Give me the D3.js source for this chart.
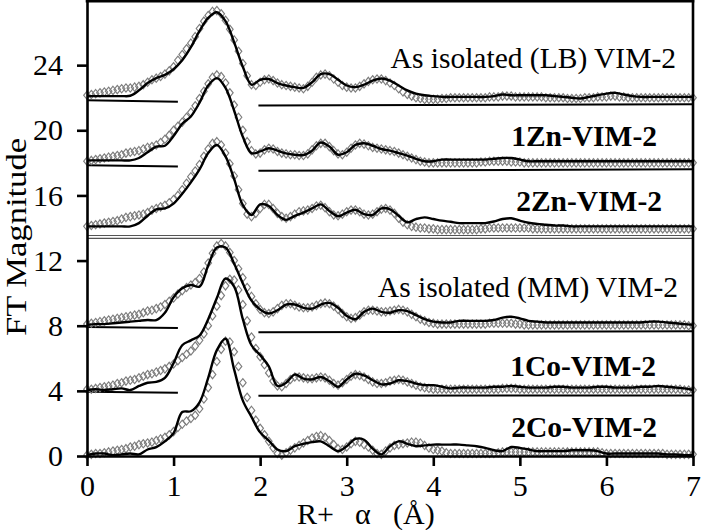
<!DOCTYPE html>
<html><head><meta charset="utf-8">
<script src="https://cdn.jsdelivr.net/npm/d3@7"></script>
<style>body{margin:0;background:#fff}svg{display:block}text{font-family:"Liberation Serif","Times New Roman",serif}</style>
</head><body><svg id="c" width="702" height="530"></svg>
<script>
// ---- data (R + alpha in Å, FT magnitude with offsets) ----
const xTicks = [0,1,2,3,4,5,6,7];
const yTicks = [0,4,8,12,16,20,24];
const seriesNames = ["As isolated (LB) VIM-2","1Zn-VIM-2","2Zn-VIM-2","As isolated (MM) VIM-2","1Co-VIM-2","2Co-VIM-2"];
const seriesBold = [false,true,true,false,true,true];
// experimental data sampled every 0.05 Å from 0 to 7
const dataLB = [22.15,22.2,22.25,22.3,22.35,22.4,22.45,22.5,22.55,22.6,
22.6,22.65,22.7,22.8,22.95,23.1,23.2,23.3,23.45,23.65,
23.9,24.3,24.65,25.0,25.35,25.75,26.25,26.7,27.05,27.3,
27.35,27.15,26.75,26.2,25.55,24.85,24.1,23.35,22.8,22.75,
22.95,23.1,23.15,23.05,22.9,22.8,22.75,22.7,22.65,22.6,
22.55,22.7,22.95,23.25,23.4,23.45,23.35,23.15,22.95,22.75,
22.65,22.6,22.6,22.7,22.85,23.0,23.1,23.15,23.15,23.05,
22.9,22.75,22.55,22.35,22.2,22.1,22.0,21.95,21.9,21.9,
21.9,21.9,21.95,21.95,22.0,22.0,22.0,22.0,22.0,22.0,
22.0,22.0,22.0,22.05,22.05,22.05,22.1,22.1,22.1,22.05,
22.05,22.05,22.05,22.05,22.05,22.05,22.0,22.0,22.0,22.0,
22.0,21.95,21.95,21.95,21.95,22.0,22.0,22.0,22.05,22.05,
22.05,22.1,22.1,22.05,22.05,22.0,22.0,22.0,22.0,22.0,
22.0,22.0,22.0,22.0,22.0,22.0,22.0,22.0,22.0,22.0,22.0];
const data1Zn = [18.1,18.15,18.2,18.25,18.3,18.35,18.4,18.45,18.5,18.6,
18.65,18.7,18.75,18.85,18.95,19.0,19.1,19.25,19.45,19.7,
20.0,20.25,20.5,20.8,21.1,21.5,21.95,22.4,22.85,23.25,
23.4,23.3,22.9,22.3,21.55,20.8,20.0,19.3,18.75,18.55,
18.6,18.8,18.9,18.85,18.7,18.6,18.55,18.5,18.5,18.45,
18.45,18.55,18.8,19.05,19.2,19.2,19.0,18.75,18.55,18.5,
18.65,18.9,19.1,19.2,19.15,19.05,18.95,18.9,18.85,18.8,
18.75,18.7,18.6,18.5,18.4,18.3,18.2,18.1,18.05,18.0,
18.0,18.0,18.0,18.0,18.0,18.0,18.0,18.0,18.0,18.0,
18.0,18.05,18.05,18.1,18.1,18.1,18.1,18.1,18.05,18.05,
18.05,18.0,18.0,18.0,18.0,18.0,18.0,18.0,18.0,18.0,
18.0,18.0,18.0,18.0,18.0,18.0,18.0,18.0,18.0,18.0,
18.0,18.0,18.0,18.0,18.0,18.0,18.0,18.0,18.0,18.0,
18.0,18.0,18.0,18.0,18.0,18.0,18.0,18.0,18.0,18.0,18.0];
const data2Zn = [14.1,14.15,14.2,14.25,14.3,14.35,14.4,14.45,14.55,14.65,
14.7,14.75,14.8,14.85,14.95,15.1,15.2,15.3,15.4,15.55,
15.75,16.0,16.35,16.75,17.15,17.5,17.9,18.4,18.85,19.2,
19.3,19.1,18.6,17.95,17.2,16.35,15.5,14.85,14.7,14.9,
15.2,15.45,15.45,15.2,14.9,14.7,14.6,14.7,14.85,15.0,
15.05,15.1,15.2,15.35,15.4,15.25,15.0,14.8,14.75,14.85,
15.0,15.1,15.1,15.0,14.85,14.8,14.85,15.0,15.15,15.2,
15.1,14.9,14.6,14.35,14.2,14.1,14.05,14.0,14.0,13.95,
13.95,13.9,13.9,13.9,13.9,13.9,13.9,13.9,13.9,13.9,
13.9,13.95,13.95,14.0,14.0,14.0,14.0,14.0,14.0,14.0,
14.0,14.0,14.0,13.95,13.95,13.95,13.95,13.95,13.95,13.95,
13.95,13.95,13.95,13.95,13.95,13.95,13.95,13.95,13.95,13.95,
13.95,13.95,13.95,13.95,13.95,13.95,13.95,13.95,13.95,13.95,
13.95,13.95,13.95,13.95,13.95,13.95,13.95,13.95,13.95,13.95,13.95];
const dataMM = [8.1,8.15,8.2,8.25,8.3,8.35,8.4,8.45,8.5,8.55,
8.6,8.65,8.7,8.8,8.9,8.95,9.05,9.15,9.3,9.5,
9.7,9.95,10.15,10.35,10.5,10.65,10.9,11.3,11.85,12.45,
12.9,13.05,12.9,12.5,12.0,11.5,10.95,10.35,9.8,9.35,
9.0,8.8,8.75,8.85,9.05,9.25,9.35,9.35,9.25,9.15,
9.1,9.1,9.15,9.25,9.35,9.4,9.35,9.2,9.0,8.75,
8.55,8.45,8.5,8.65,8.85,8.95,8.95,8.9,8.85,8.85,
8.9,8.95,9.0,8.95,8.85,8.7,8.55,8.4,8.3,8.2,
8.15,8.1,8.1,8.1,8.1,8.1,8.1,8.1,8.1,8.1,
8.1,8.1,8.1,8.15,8.15,8.15,8.15,8.15,8.15,8.1,
8.1,8.05,8.05,8.05,8.05,8.05,8.05,8.05,8.05,8.05,
8.05,8.05,8.05,8.05,8.05,8.05,8.05,8.05,8.05,8.05,
8.05,8.05,8.05,8.05,8.05,8.05,8.05,8.05,8.05,8.05,
8.05,8.05,8.05,8.05,8.05,8.05,8.05,8.05,8.05,8.0,8.0];
const data1Co = [4.1,4.1,4.15,4.2,4.25,4.3,4.35,4.45,4.5,4.6,
4.65,4.7,4.8,4.9,5.0,5.05,5.15,5.25,5.35,5.5,
5.65,5.85,6.05,6.25,6.45,6.75,7.1,7.5,8.0,8.6,
9.2,9.85,10.45,10.85,10.8,10.2,9.3,8.3,7.3,6.6,
6.1,5.6,5.1,4.6,4.3,4.25,4.45,4.7,4.85,4.85,
4.8,4.75,4.75,4.8,4.85,4.8,4.65,4.45,4.35,4.5,
4.7,4.9,5.0,4.95,4.85,4.7,4.55,4.45,4.45,4.5,
4.6,4.65,4.7,4.65,4.55,4.45,4.35,4.25,4.2,4.15,
4.1,4.1,4.1,4.1,4.1,4.1,4.1,4.1,4.1,4.1,
4.1,4.1,4.1,4.1,4.1,4.1,4.15,4.15,4.15,4.15,
4.1,4.1,4.1,4.1,4.1,4.1,4.1,4.1,4.1,4.1,
4.1,4.1,4.1,4.1,4.1,4.1,4.1,4.1,4.1,4.1,
4.1,4.1,4.1,4.1,4.1,4.1,4.1,4.1,4.1,4.1,
4.1,4.1,4.1,4.1,4.1,4.1,4.1,4.1,4.05,4.05,4.05];
const data2Co = [0.05,0.1,0.15,0.15,0.2,0.25,0.3,0.35,0.4,0.45,
0.55,0.6,0.7,0.75,0.8,0.85,0.95,1.05,1.15,1.3,
1.5,1.75,1.95,2.15,2.3,2.5,2.9,3.5,4.2,5.0,
5.8,6.55,7.05,7.0,6.4,5.5,4.5,3.6,2.8,2.2,
1.7,1.3,0.9,0.5,0.15,0.05,0.2,0.35,0.5,0.65,
0.8,0.95,1.1,1.2,1.25,1.15,0.95,0.7,0.45,0.4,
0.55,0.75,0.9,0.85,0.7,0.55,0.35,0.15,0.1,0.3,
0.5,0.65,0.7,0.75,0.8,0.85,0.85,0.8,0.65,0.5,
0.4,0.35,0.3,0.2,0.15,0.15,0.15,0.15,0.15,0.15,
0.15,0.15,0.15,0.15,0.15,0.2,0.25,0.25,0.25,0.25,
0.25,0.25,0.25,0.25,0.25,0.25,0.25,0.25,0.25,0.25,
0.25,0.25,0.25,0.25,0.25,0.25,0.25,0.25,0.25,0.2,
0.15,0.15,0.15,0.15,0.15,0.15,0.15,0.15,0.15,0.15,
0.15,0.15,0.15,0.15,0.1,0.1,0.1,0.1,0.1,0.1,0.1];
// fits sampled every 0.1 Å from 0 to 7
const fitLB = [22.1,22.1,22.1,22.1,22.1,22.12,22.45,22.9,23.2,23.4,
23.75,24.3,25.1,26.1,26.9,27.25,26.7,25.4,23.9,22.8,
23.1,23.15,22.9,22.75,22.65,22.6,22.95,23.45,23.45,23.1,
22.75,22.65,22.8,23.05,23.18,23.05,22.75,22.45,22.25,22.15,
22.1,22.05,22.05,22.05,22.05,22.05,22.05,22.1,22.2,22.15,
22.15,22.15,22.15,22.15,22.1,22.05,22.0,21.95,22.05,22.15,
22.25,22.3,22.2,22.1,22.05,22.05,22.05,22.05,22.05,22.05,22.05];
const fit1Zn = [18.15,18.15,18.15,18.15,18.15,18.15,18.3,18.65,19.0,19.05,
19.65,20.4,20.85,21.7,22.75,23.2,22.6,21.2,19.6,18.6,
18.7,18.9,18.75,18.58,18.5,18.48,18.75,19.25,19.0,18.5,
18.65,19.1,19.2,19.05,18.85,18.75,18.6,18.45,18.25,18.1,
18.1,18.2,18.2,18.2,18.2,18.2,18.2,18.25,18.3,18.3,
18.2,18.1,18.1,18.1,18.1,18.1,18.1,18.1,18.1,18.1,
18.1,18.1,18.1,18.1,18.1,18.1,18.1,18.1,18.1,18.1,18.1];
const fit2Zn = [14.1,14.1,14.1,14.1,14.1,14.1,14.3,14.75,15.15,15.2,
15.5,16.1,16.8,17.6,18.6,19.1,18.4,17.0,15.4,14.8,
15.45,15.35,14.8,14.5,14.75,14.95,15.2,15.45,15.05,14.72,
14.95,15.12,14.85,14.8,15.2,15.15,14.75,14.35,14.55,14.65,
14.55,14.45,14.38,14.3,14.3,14.3,14.3,14.4,14.55,14.6,
14.45,14.32,14.25,14.2,14.15,14.15,14.1,14.1,14.1,14.1,
14.1,14.1,14.1,14.1,14.1,14.1,14.1,14.1,14.1,14.1,14.1];
const fitMM = [8.05,8.1,8.1,8.15,8.2,8.25,8.3,8.35,8.35,8.8,
9.75,10.3,10.5,10.4,11.7,12.8,12.8,11.8,10.6,9.55,
9.0,8.75,8.95,9.3,9.3,9.1,9.05,9.3,9.4,9.1,
8.6,8.4,8.85,9.05,8.85,8.8,8.95,8.9,8.65,8.4,
8.25,8.2,8.2,8.3,8.3,8.3,8.3,8.35,8.5,8.55,
8.45,8.3,8.25,8.2,8.2,8.2,8.2,8.2,8.2,8.2,
8.2,8.2,8.2,8.2,8.2,8.25,8.25,8.2,8.15,8.1,8.05];
const fit1Co = [4.05,4.1,4.05,4.1,4.15,4.05,4.3,4.5,4.55,4.8,
5.7,6.8,7.1,7.4,8.4,9.7,10.9,10.4,8.4,6.8,
6.2,5.5,4.3,4.5,5.0,4.75,4.7,4.85,4.6,4.25,
4.7,5.05,4.95,4.65,4.4,4.45,4.65,4.6,4.45,4.35,
4.35,4.25,4.15,4.2,4.2,4.2,4.2,4.25,4.25,4.3,
4.25,4.2,4.2,4.2,4.25,4.25,4.2,4.2,4.2,4.25,
4.25,4.2,4.2,4.2,4.25,4.25,4.3,4.25,4.2,4.15,4.05];
const fit2Co = [0.05,0.15,0.15,0.05,0.1,0.15,0.1,0.4,0.55,0.9,
1.4,2.7,2.75,3.3,4.8,6.5,7.2,5.3,3.4,2.4,
1.45,0.95,0.4,0.3,0.6,0.75,0.85,0.9,0.6,0.3,
0.6,1.05,1.0,0.45,0.1,0.6,0.9,0.75,0.6,0.65,
0.7,0.7,0.7,0.7,0.65,0.6,0.5,0.35,0.3,0.55,
0.5,0.4,0.3,0.3,0.3,0.3,0.35,0.35,0.35,0.3,
0.15,0.15,0.15,0.15,0.15,0.15,0.15,0.1,0.1,0.05,0.05];
// broken baseline segments (value at segment start / end)
const baseLeftStart  = [21.85,17.86,7.92,3.95];
const baseLeftEnd    = [21.75,17.78,7.86,3.89];
const baseRightStart = [21.52,17.52,7.6,3.7];
const baseRightEnd   = [21.6,17.6,7.66,3.72];
const baseLeftSpan = [0,1.05];
const baseRightSpan = [1.98,7];
const separatorLevel = [13.45];

// ---- drawing ----
const rData = d3.range(141).map(i => +(i*0.05).toFixed(2));
const rFit = d3.range(71).map(i => +(i*0.1).toFixed(1));
const dataSets = [dataLB,data1Zn,data2Zn,dataMM,data1Co,data2Co];
const fitSets = [fitLB,fit1Zn,fit2Zn,fitMM,fit1Co,fit2Co];
const series = seriesNames.map((n,i)=>({name:n,bold:seriesBold[i],
  data:rData.map((r,j)=>[r,dataSets[i][j]]), fit:rFit.map((r,j)=>[r,fitSets[i][j]])}));

const svg = d3.select("#c");
const x = d3.scaleLinear().domain([0,7]).range([87,693]);
const y = d3.scaleLinear().domain([0,28]).range([456,0]);

// separator double line
separatorLevel.forEach(v=>{
  [-1.4,1.4].forEach(o=>{
    svg.append("line").attr("x1",x(0)).attr("x2",x(7)).attr("y1",y(v)+o).attr("y2",y(v)+o)
      .attr("stroke","#555").attr("stroke-width",1.1);
  });
});
// baselines
baseLeftStart.forEach((v,i)=>{
  svg.append("line").attr("x1",x(baseLeftSpan[0])).attr("x2",x(baseLeftSpan[1]))
    .attr("y1",y(v)).attr("y2",y(baseLeftEnd[i])).attr("stroke","#000").attr("stroke-width",2);
  svg.append("line").attr("x1",x(baseRightSpan[0])).attr("x2",x(baseRightSpan[1]))
    .attr("y1",y(baseRightStart[i])).attr("y2",y(baseRightEnd[i])).attr("stroke","#000").attr("stroke-width",2);
});
// data diamonds (open, gray)
const diamondShape = {draw(ctx,size){
  const w = Math.sqrt(size)/2, h = w*1.25;
  ctx.moveTo(0,-h); ctx.lineTo(w,0); ctx.lineTo(0,h); ctx.lineTo(-w,0); ctx.closePath();
}};
const sym = d3.symbol().type(diamondShape).size(44);
series.forEach(s=>{
  svg.append("g").selectAll("path").data(s.data).join("path")
    .attr("d",sym).attr("transform",d=>`translate(${x(d[0])},${y(d[1])})`)
    .attr("fill","none").attr("stroke","#7d7d7d").attr("stroke-width",1.15);
});
// fit lines
const line = d3.line().x(d=>x(d[0])).y(d=>y(d[1])).curve(d3.curveCatmullRom.alpha(0.5));
series.forEach(s=>{
  svg.append("path").datum(s.fit).attr("d",line).attr("fill","none")
    .attr("stroke","#000").attr("stroke-width",2.4).attr("stroke-linejoin","round");
});
// axes
const gx = svg.append("g").attr("transform",`translate(0,${y(0)})`)
  .call(d3.axisBottom(x).tickValues(xTicks).tickSize(10).tickSizeOuter(0).tickPadding(9).tickFormat(d3.format("d")));
const gy = svg.append("g").attr("transform",`translate(${x(0)},0)`)
  .call(d3.axisLeft(y).tickValues(yTicks).tickSize(10).tickSizeOuter(0).tickPadding(14).tickFormat(d3.format("d")));
[gx,gy].forEach(g=>{
  g.selectAll("path,line").attr("stroke","#000").attr("stroke-width",2.6);
  g.selectAll("text").attr("font-size",30).attr("font-family","'Liberation Serif',serif").attr("fill","#000");
});
// frame top & right
svg.append("line").attr("x1",x(0)-1.3).attr("x2",x(7)+1.3).attr("y1",1.3).attr("y2",1.3).attr("stroke","#000").attr("stroke-width",2.6);
svg.append("line").attr("x1",x(7)).attr("x2",x(7)).attr("y1",0).attr("y2",y(0)).attr("stroke","#000").attr("stroke-width",2.6);

// series labels
const labelPos = [[676,68],[657,146],[662,211],[678,297],[656,376],[657,437]];
series.forEach((s,i)=>{
  svg.append("text").attr("x",labelPos[i][0]).attr("y",labelPos[i][1]).attr("text-anchor","end")
    .attr("font-size",29.5).attr("font-weight",s.bold?"bold":"normal").text(s.name);
});
// axis titles
const xt = svg.append("text").attr("y",524).attr("font-size",30);
xt.append("tspan").attr("x",297).text("R+");
xt.append("tspan").attr("x",355).text("α");
xt.append("tspan").attr("x",393).text("(Å)");
svg.append("text").attr("transform","translate(26,237) rotate(-90)").attr("text-anchor","middle")
  .attr("font-size",30).attr("textLength",198).attr("lengthAdjust","spacingAndGlyphs").text("FT Magnitude");
</script></body></html>
